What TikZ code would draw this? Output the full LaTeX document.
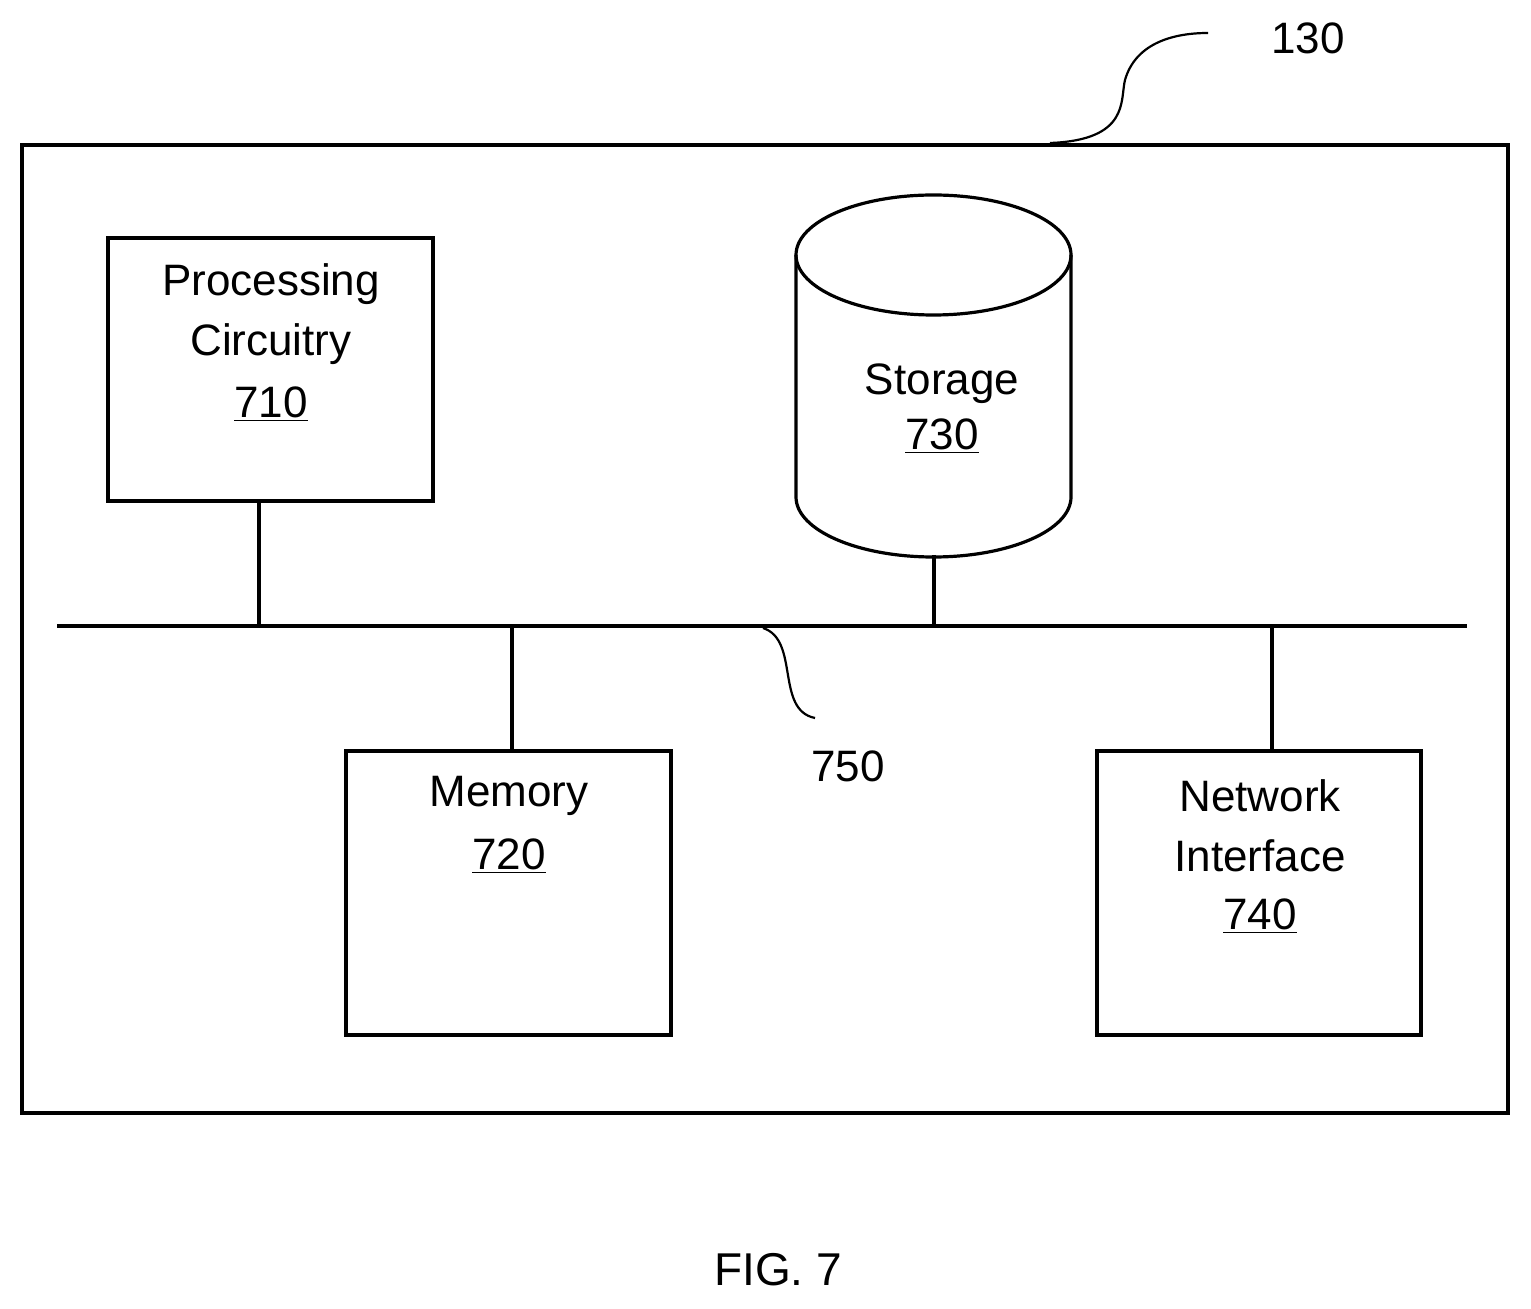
\documentclass[tikz,border=0pt]{standalone}
\usepackage{fontspec}
\setmainfont{Liberation Sans}
\begin{document}
\begin{tikzpicture}[x=0.5pt,y=-0.5pt,
  ln/.style={line width=1.6pt,black},
  lbl/.style={font=\fontsize{22}{30}\selectfont,align=center,inner sep=0pt},
  box/.style={ln,draw,fill=none}]
\useasboundingbox (0,0) rectangle (1531,1309);
\draw[box] (22,145) rectangle (1508,1113);
% processing
\draw[box] (108,238) rectangle (433,501);
\node[lbl] (p1) at (271,284) {Processing};
\node[lbl] (p2) at (271,344) {Circuitry};
\node[lbl] (p3) at (271,404) {\underline{710}};
% storage cylinder
\draw[ln,fill=white] (796,255) -- (796,497) arc[start angle=180,end angle=0,x radius=137.5,y radius=60] -- (1071,255);
\draw[ln] (933.5,255) ellipse [x radius=137.5,y radius=60];
\node[lbl] (s1) at (942,384) {Storage};
\node[lbl] (s2) at (942,436) {\underline{730}};
% memory
\draw[box] (346,751) rectangle (671,1035);
\node[lbl] (m1) at (509,796) {Memory};
\node[lbl] (m2) at (509,856) {\underline{720}};
% network
\draw[box] (1097,751) rectangle (1421,1035);
\node[lbl] (n1) at (1260,796) {Network};
\node[lbl] (n2) at (1260,856) {Interface};
\node[lbl] (n3) at (1260,916) {\underline{740}};
% bus
\coordinate (bl) at (57,626); \coordinate (br) at (1467,626);
\draw[ln] (bl) -- (br);
\coordinate (a1) at (259,501); \coordinate (a2) at (259,626);
\coordinate (b1) at (934,555); \coordinate (b2) at (934,626);
\coordinate (c1) at (512,626); \coordinate (c2) at (512,751);
\coordinate (d1) at (1272,626); \coordinate (d2) at (1272,751);
\draw[ln] (a1) -- (a2); \draw[ln] (b1) -- (b2);
\draw[ln] (c1) -- (c2); \draw[ln] (d1) -- (d2);
% labels
\node[lbl] (l750) at (848,766) {750};
\coordinate (q1) at (763,628); \coordinate (q2) at (815,718);
\draw[line width=1.1pt] (q1) .. controls (800,640) and (775,710) .. (q2);
\node[lbl] (l130) at (1308,38) {130};
\coordinate (r1) at (1050,143); \coordinate (r2) at (1208,33);
\draw[line width=1.1pt] (r1) .. controls (1130,140) and (1120,100) .. (1125,80) .. controls (1135,45) and (1170,33) .. (r2);
\node[font=\fontsize{23}{30}\selectfont,inner sep=0pt] (fig) at (778,1270) {FIG. 7};
\end{tikzpicture}
\end{document}
